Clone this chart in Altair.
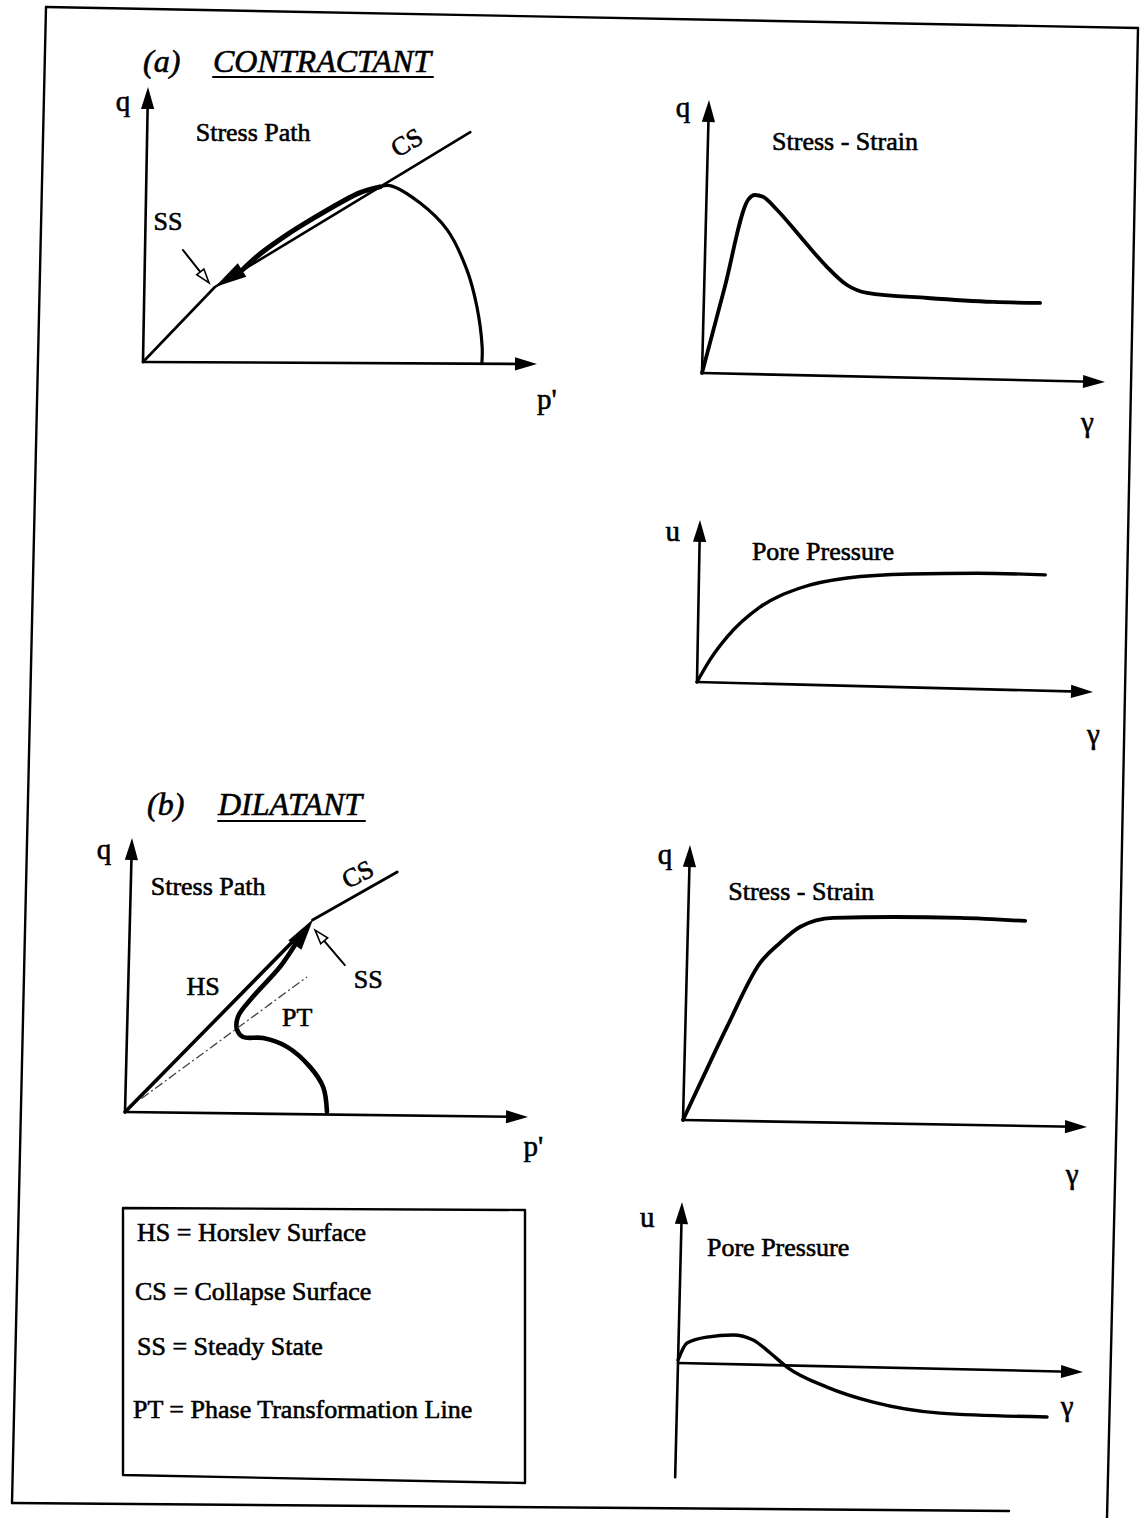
import altair as alt
import numpy as np
import pandas as pd

W, H = 1140, 1518
FONT = "Liberation Serif"

# ---------------------------------------------------------------------------
# Curve values, in panel units (0-100 along each drawn axis)
# ---------------------------------------------------------------------------
# (a) contractant - stress path (p', q)
a_cs_p = [0, 17.9, 82.0]
a_cs_q = [0, 27.4, 84.2]
a_yield_p = [59.3, 61.9, 69.6, 76.6, 81.8, 84.5, 86.0, 86.0]
a_yield_q = [64.1, 64.6, 58.3, 48.6, 34.0, 20.6, 6.1, 0.0]
a_path_p = [59.3, 54.3, 49.2, 42.5, 35.9, 29.2, 24.9]
a_path_q = [64.1, 62.0, 58.2, 52.5, 46.5, 39.5, 33.8]
a_steady = (17.9, 27.4)
a_pointer_p = [9.6, 16.4]
a_pointer_q = [40.8, 28.9]

# (a) contractant - stress/strain and pore pressure
a_strain_1 = [0, 5.0, 10.3, 12.0, 14.0, 17.6, 24.2, 30.3, 35.4, 40.4, 55.4, 71.8, 83.4]
a_stress = [0, 31.0, 63.7, 65.6, 65.0, 60.3, 49.6, 39.9, 33.4, 30.7, 29.3, 28.4, 28.4]
a_strain_2 = [0, 3.2, 7.4, 15.6, 25.6, 37.4, 53.3, 70.2, 87.4]
a_pore = [0, 14.0, 28.3, 47.3, 59.6, 66.5, 70.0, 71.5, 71.5]

# (b) dilatant - stress path (p', q)
b_cs_p = [45.3, 66.0]
b_cs_q = [70.9, 88.8]
b_hs_p = [0, 41.6]
b_hs_q = [0, 64.6]
b_pt_p = [4.0, 44.3]
b_pt_q = [5.0, 50.1]
b_path_p = [50.1, 49.0, 45.6, 39.8, 33.8, 28.8, 27.3, 27.4, 31.0, 37.5, 41.1]
b_path_q = [1.0, 10.0, 17.3, 24.5, 27.6, 27.9, 30.4, 35.2, 42.6, 53.6, 61.7]
b_steady = (45.3, 70.9)
b_pointer_p = [53.6, 46.0]
b_pointer_q = [54.6, 67.2]

# (b) dilatant - stress/strain and pore pressure
b_strain_1 = [0, 4.7, 10.3, 18.1, 22.9, 27.7, 35.9, 50.7, 67.3, 83.4]
b_stress = [0, 15.7, 34.1, 57.6, 65.0, 70.9, 74.4, 75.1, 75.2, 74.5]
b_strain_2 = [0, 2.1, 7.0, 13.4, 18.4, 22.7, 26.9, 36.9, 48.4, 65.0, 91.4]
b_pore = [1.9, 12.5, 16.5, 18.1, 15.3, 7.5, -1.0, -12.9, -21.6, -27.5, -28.4]

# Texts
title_a = ["(a)", "CONTRACTANT"]
title_b = ["(b)", "DILATANT"]
legend_lines = [
    "HS = Horslev Surface",
    "CS = Collapse Surface",
    "SS = Steady State",
    "PT = Phase Transformation Line",
]

# ---------------------------------------------------------------------------
# Layout: each panel is given by its origin, x-axis tip and y-axis tip on the page
# ---------------------------------------------------------------------------
panels = {
    "a_path": dict(o=(143, 362), x=(537, 364), y=(148, 87), ymin=0),
    "a_ss": dict(o=(702, 373), x=(1105, 382), y=(709, 100), ymin=0),
    "a_pp": dict(o=(697, 682), x=(1093, 692), y=(700, 520), ymin=0),
    "b_path": dict(o=(125, 1112), x=(528, 1117), y=(132, 838), ymin=0),
    "b_ss": dict(o=(683, 1120), x=(1087, 1127), y=(690, 845), ymin=0),
    "b_pp": dict(o=(678, 1363), x=(1083, 1372), y=(682, 1202), ymin=-71),
}

# axis-name / heading / curve-label anchors in panel units
panel_labels = [
    ("a_path", "q", -6.3, 94.5, 29, 0), ("a_path", "p'", 102.7, -13.1, 29, 0),
    ("a_path", "Stress Path", 26.9, 83.5, 26, 0), ("a_path", "CS", 66.0, 80.1, 26, 329),
    ("a_path", "SS", 5.7, 50.9, 26, 0),
    ("a_ss", "q", -6.4, 96.9, 29, 0), ("a_ss", "γ", 95.9, -15.2, 29, 0),
    ("a_ss", "Stress - Strain", 34.0, 85.8, 26, 0),
    ("a_pp", "u", -6.8, 92.2, 29, 0), ("a_pp", "γ", 100.3, -26.5, 29, 0),
    ("a_pp", "Pore Pressure", 31.2, 82.2, 26, 0),
    ("b_path", "q", -6.9, 95.5, 29, 0), ("b_path", "p'", 101.5, -10.9, 29, 0),
    ("b_path", "Stress Path", 19.2, 82.5, 26, 0), ("b_path", "CS", 56.3, 87.6, 26, 332),
    ("b_path", "HS", 18.6, 46.0, 26, 0), ("b_path", "PT", 42.1, 35.1, 26, 0),
    ("b_path", "SS", 59.5, 49.3, 26, 0),
    ("b_ss", "q", -6.1, 96.3, 29, 0), ("b_ss", "γ", 96.6, -17.6, 29, 0),
    ("b_ss", "Stress - Strain", 27.8, 83.6, 26, 0),
    ("b_pp", "u", -8.5, 89.6, 29, 0), ("b_pp", "γ", 96.3, -22.0, 29, 0),
    ("b_pp", "Pore Pressure", 24.0, 72.8, 26, 0),
]

title_pos_a = [(143, 72), (213, 72)]
title_pos_b = [(147, 815), (218, 815)]
underline_a = [(213, 77), (433, 77)]
underline_b = [(218, 821), (365, 821)]
legend_pos = [(137, 1233), (135, 1292), (137, 1347), (133, 1410)]

frame = {
    "top": [(46, 7), (1138, 28)],
    "left": [(46, 7), (12, 1503)],
    "bottom": [(12, 1503), (1009, 1511)],
    "right": [(1138, 28), (1117, 1100), (1107, 1518)],
    "legend": [(123, 1208), (525, 1210), (525, 1483), (123, 1475), (123, 1208)],
}

AXIS_HEAD_LEN = 22.0
AXIS_HEAD = "M0,-1L0.6,1L-0.6,1Z"
PATH_HEAD_LEN = 32.0
PATH_HEAD = "M0,-1L0.5,1L-0.5,1Z"
OPEN_HEAD_LEN = 14.0
OPEN_HEAD = "M0,-1L0.65,1L-0.65,1Z"


def to_page(panel, u, v):
    p = panels[panel]
    o = np.array(p["o"], float)
    ax = np.array(p["x"], float) - o
    ay = np.array(p["y"], float) - o
    u = np.atleast_1d(np.asarray(u, float)) / 100.0
    v = np.atleast_1d(np.asarray(v, float)) / 100.0
    return o[0] + u * ax[0] + v * ay[0], o[1] + u * ax[1] + v * ay[1]


rows = {"linear": [], "monotone": [], "catmull-rom": [], "dash": []}
heads = {"axis": [], "path": [], "open": []}


def add_line(kind, key, xs, ys, width):
    for i, (x, y) in enumerate(zip(xs, ys)):
        rows[kind].append(dict(key=key, i=i, x=float(x), y=float(y), w=width))


def add_head(kind, tip, frm, length):
    tip = np.array(tip, float)
    d = tip - np.array(frm, float)
    d = d / np.hypot(*d)
    ang = np.degrees(np.arctan2(d[0], -d[1])) % 360
    c = tip - d * length / 2
    heads[kind].append(dict(x=c[0], y=c[1], angle=float(ang)))
    return tip - d * length * 0.6  # where a shaft should stop


# frame and legend box
for name, pts in frame.items():
    add_line("linear", "frame_" + name, [p[0] for p in pts], [p[1] for p in pts], 2.4)

# title underlines
for name, pts in (("ul_a", underline_a), ("ul_b", underline_b)):
    add_line("linear", name, [p[0] for p in pts], [p[1] for p in pts], 2.0)

# axes with arrowheads
for name, p in panels.items():
    ox, oy = to_page(name, 0, 0)
    bx, by = to_page(name, 0, p["ymin"])
    tx, ty = to_page(name, 100, 0)
    end = add_head("axis", (tx[0], ty[0]), (ox[0], oy[0]), AXIS_HEAD_LEN)
    add_line("linear", name + "_xaxis", [ox[0], end[0]], [oy[0], end[1]], 2.6)
    tx, ty = to_page(name, 0, 100)
    end = add_head("axis", (tx[0], ty[0]), (bx[0], by[0]), AXIS_HEAD_LEN)
    add_line("linear", name + "_yaxis", [bx[0], end[0]], [by[0], end[1]], 2.6)

# (a) stress path
x, y = to_page("a_path", a_cs_p, a_cs_q)
add_line("linear", "a_cs", x, y, 2.6)
x, y = to_page("a_path", a_yield_p, a_yield_q)
add_line("catmull-rom", "a_yield", x, y, 3.2)
x, y = to_page("a_path", a_path_p, a_path_q)
add_line("catmull-rom", "a_path", x, y, 5.0)
tx, ty = to_page("a_path", *a_steady)
add_head("path", (tx[0], ty[0]), (x[-1], y[-1]), PATH_HEAD_LEN)
x, y = to_page("a_path", a_pointer_p, a_pointer_q)
end = add_head("open", (x[-1], y[-1]), (x[0], y[0]), OPEN_HEAD_LEN)
add_line("linear", "a_ptr", [x[0], end[0]], [y[0], end[1]], 2.0)

# (a) stress-strain and pore pressure
x, y = to_page("a_ss", a_strain_1, a_stress)
add_line("monotone", "a_ss_curve", x, y, 3.8)
x, y = to_page("a_pp", a_strain_2, a_pore)
add_line("monotone", "a_pp_curve", x, y, 3.4)

# (b) stress path
x, y = to_page("b_path", b_cs_p, b_cs_q)
add_line("linear", "b_cs", x, y, 2.8)
x, y = to_page("b_path", b_hs_p, b_hs_q)
add_line("linear", "b_hs", x, y, 3.6)
x, y = to_page("b_path", b_pt_p, b_pt_q)
add_line("dash", "b_pt", x, y, 1.3)
x, y = to_page("b_path", b_path_p, b_path_q)
add_line("catmull-rom", "b_path", x, y, 4.6)
tx, ty = to_page("b_path", *b_steady)
add_head("path", (tx[0], ty[0]), (x[-1], y[-1]), PATH_HEAD_LEN * 0.92)
x, y = to_page("b_path", b_pointer_p, b_pointer_q)
end = add_head("open", (x[-1], y[-1]), (x[0], y[0]), OPEN_HEAD_LEN)
add_line("linear", "b_ptr", [x[0], end[0]], [y[0], end[1]], 2.0)

# (b) stress-strain and pore pressure
x, y = to_page("b_ss", b_strain_1, b_stress)
add_line("monotone", "b_ss_curve", x, y, 3.8)
x, y = to_page("b_pp", b_strain_2, b_pore)
add_line("monotone", "b_pp_curve", x, y, 3.4)

label_rows = []
for panel, text, u, v, fs, ang in panel_labels:
    px, py = to_page(panel, u, v)
    label_rows.append(dict(x=px[0], y=py[0], text=text, fs=fs, ang=ang))
labels_df = pd.DataFrame(label_rows)

title_df = pd.DataFrame(
    [dict(x=p[0], y=p[1], text=t) for t, p in zip(title_a + title_b, title_pos_a + title_pos_b)]
)
legend_df = pd.DataFrame([dict(x=p[0], y=p[1], text=t) for t, p in zip(legend_lines, legend_pos)])

X = alt.X("x:Q", scale=alt.Scale(domain=[0, W], nice=False, zero=False), axis=None)
Y = alt.Y("y:Q", scale=alt.Scale(domain=[0, H], nice=False, zero=False, reverse=True), axis=None)

line_layers = []
for kind in ("linear", "monotone", "catmull-rom"):
    line_layers.append(
        alt.Chart(pd.DataFrame(rows[kind])).mark_line(
            color="black", interpolate=kind, strokeCap="round", strokeJoin="round"
        ).encode(x=X, y=Y, detail="key:N", order="i:Q",
                 strokeWidth=alt.StrokeWidth("w:Q", scale=None))
    )

dashed = alt.Chart(pd.DataFrame(rows["dash"])).mark_line(
    color="#444444", strokeDash=[9, 3, 2, 3], strokeWidth=1.3
).encode(x=X, y=Y, detail="key:N", order="i:Q")

axis_heads = alt.Chart(pd.DataFrame(heads["axis"])).mark_point(
    shape=AXIS_HEAD, filled=True, color="black", opacity=1, size=AXIS_HEAD_LEN ** 2, strokeWidth=0
).encode(x=X, y=Y, angle=alt.Angle("angle:Q", scale=None))

path_heads = alt.Chart(pd.DataFrame(heads["path"])).mark_point(
    shape=PATH_HEAD, filled=True, color="black", opacity=1, size=PATH_HEAD_LEN ** 2, strokeWidth=0
).encode(x=X, y=Y, angle=alt.Angle("angle:Q", scale=None))

open_heads = alt.Chart(pd.DataFrame(heads["open"])).mark_point(
    shape=OPEN_HEAD, filled=True, fill="white", stroke="black", strokeWidth=1.6,
    opacity=1, size=OPEN_HEAD_LEN ** 2,
).encode(x=X, y=Y, angle=alt.Angle("angle:Q", scale=None))

INK = dict(font=FONT, color="black", stroke="black", strokeWidth=0.6)

labels = alt.Chart(labels_df).mark_text(align="center", baseline="middle", **INK).encode(
    x=X, y=Y, text="text:N",
    size=alt.Size("fs:Q", scale=None),
    angle=alt.Angle("ang:Q", scale=None),
)

titles = alt.Chart(title_df).mark_text(
    fontStyle="italic", fontSize=32, align="left", baseline="alphabetic", **INK
).encode(x=X, y=Y, text="text:N")

legend = alt.Chart(legend_df).mark_text(
    fontSize=26, align="left", baseline="middle", **INK
).encode(x=X, y=Y, text="text:N")

chart = (
    alt.layer(*line_layers, dashed, axis_heads, path_heads, open_heads, labels, titles, legend)
    .properties(width=W, height=H, autosize=alt.AutoSizeParams(type="none"), padding=0, background="white")
    .configure_view(stroke=None)
)

chart.save("out.html", embed_options={"renderer": "svg", "actions": False})
